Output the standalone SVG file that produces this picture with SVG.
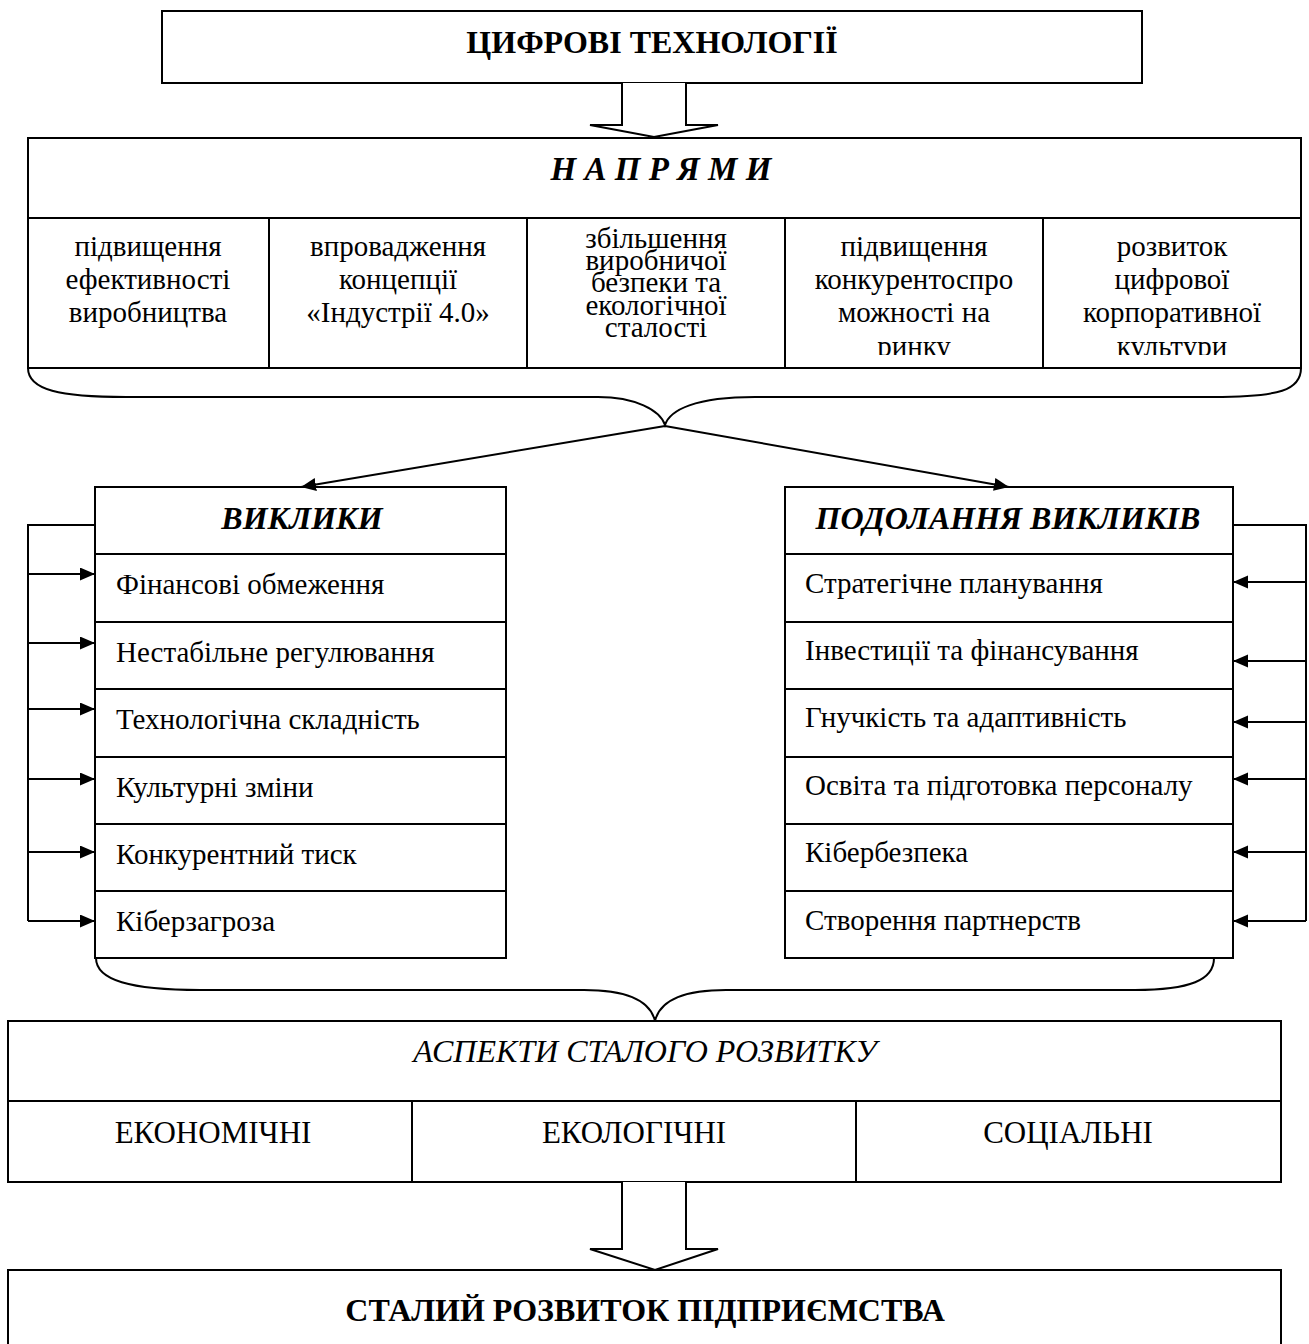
<svg xmlns="http://www.w3.org/2000/svg" width="1309" height="1344" viewBox="0 0 1309 1344">
<style>
.box{fill:#fff;stroke:#000;stroke-width:2}
.ln{fill:none;stroke:#000;stroke-width:2}
.t{font-family:"Liberation Serif","Times New Roman",serif;font-size:29px;fill:#000}
.c{text-anchor:middle}
.b{font-weight:bold;font-size:32px}
.i{font-style:italic}
.h{font-size:32px}
.k{font-size:31px}
</style>
<defs>
<marker id="ah" markerUnits="userSpaceOnUse" markerWidth="16" markerHeight="14" refX="15" refY="6.5" orient="auto">
<path d="M0,0 L15,6.5 L0,13 z" fill="#000"/>
</marker>
<clipPath id="cellclip"><rect x="28" y="218" width="1273" height="137"/></clipPath>
</defs>

<g id="node-tech">
<rect class="box" x="162" y="11" width="980" height="72"/>
<text class="t c b" x="652" y="53">ЦИФРОВІ ТЕХНОЛОГІЇ</text>
</g>

<g id="node-napryamy">
<rect class="box" x="28" y="138" width="1273" height="230"/>
<line class="ln" x1="28" y1="218" x2="1301" y2="218"/>
<line class="ln" x1="269" y1="218" x2="269" y2="368"/>
<line class="ln" x1="527" y1="218" x2="527" y2="368"/>
<line class="ln" x1="785" y1="218" x2="785" y2="368"/>
<line class="ln" x1="1043" y1="218" x2="1043" y2="368"/>
<text class="t c b i" x="661" y="180" style="font-size:33px">Н А П Р Я М И</text>
<g clip-path="url(#cellclip)">
<text class="t c" x="148" y="256">підвищення</text>
<text class="t c" x="148" y="289">ефективності</text>
<text class="t c" x="148" y="322">виробництва</text>
<text class="t c" x="398" y="256">впровадження</text>
<text class="t c" x="398" y="289">концепції</text>
<text class="t c" x="398" y="322">«Індустрії 4.0»</text>
<text class="t c" x="656" y="248">збільшення</text>
<text class="t c" x="656" y="270">виробничої</text>
<text class="t c" x="656" y="292">безпеки та</text>
<text class="t c" x="656" y="315">екологічної</text>
<text class="t c" x="656" y="337">сталості</text>
<text class="t c" x="914" y="256">підвищення</text>
<text class="t c" x="914" y="289">конкурентоспро</text>
<text class="t c" x="914" y="322">можності на</text>
<text class="t c" x="914" y="356">ринку</text>
<text class="t c" x="1172" y="256">розвиток</text>
<text class="t c" x="1172" y="289">цифрової</text>
<text class="t c" x="1172" y="322">корпоративної</text>
<text class="t c" x="1172" y="356">культури</text>
</g>
</g>

<g id="node-vyklyky">
<rect class="box" x="95" y="487" width="411" height="471"/>
<line class="ln" x1="95" y1="554" x2="506" y2="554"/>
<line class="ln" x1="95" y1="622" x2="506" y2="622"/>
<line class="ln" x1="95" y1="689" x2="506" y2="689"/>
<line class="ln" x1="95" y1="757" x2="506" y2="757"/>
<line class="ln" x1="95" y1="824" x2="506" y2="824"/>
<line class="ln" x1="95" y1="891" x2="506" y2="891"/>
<text class="t c b i" x="302" y="529">ВИКЛИКИ</text>
<text class="t" x="116" y="594">Фінансові обмеження</text>
<text class="t" x="116" y="662">Нестабільне регулювання</text>
<text class="t" x="116" y="729">Технологічна складність</text>
<text class="t" x="116" y="797">Культурні зміни</text>
<text class="t" x="116" y="864">Конкурентний тиск</text>
<text class="t" x="116" y="931">Кіберзагроза</text>
</g>

<g id="node-podolannya">
<rect class="box" x="785" y="487" width="448" height="471"/>
<line class="ln" x1="785" y1="554" x2="1233" y2="554"/>
<line class="ln" x1="785" y1="622" x2="1233" y2="622"/>
<line class="ln" x1="785" y1="689" x2="1233" y2="689"/>
<line class="ln" x1="785" y1="757" x2="1233" y2="757"/>
<line class="ln" x1="785" y1="824" x2="1233" y2="824"/>
<line class="ln" x1="785" y1="891" x2="1233" y2="891"/>
<text class="t c b i" x="1008" y="529">ПОДОЛАННЯ ВИКЛИКІВ</text>
<text class="t" x="805" y="593">Стратегічне планування</text>
<text class="t" x="805" y="660">Інвестиції та фінансування</text>
<text class="t" x="805" y="727">Гнучкість та адаптивність</text>
<text class="t" x="805" y="795">Освіта та підготовка персоналу</text>
<text class="t" x="805" y="862">Кібербезпека</text>
<text class="t" x="805" y="930">Створення партнерств</text>
</g>

<g id="node-aspekty">
<rect class="box" x="8" y="1021" width="1273" height="161"/>
<line class="ln" x1="8" y1="1101" x2="1281" y2="1101"/>
<line class="ln" x1="412" y1="1101" x2="412" y2="1182"/>
<line class="ln" x1="856" y1="1101" x2="856" y2="1182"/>
<text class="t c i h" x="645" y="1062">АСПЕКТИ СТАЛОГО РОЗВИТКУ</text>
<text class="t c k" x="213" y="1143">ЕКОНОМІЧНІ</text>
<text class="t c k" x="634" y="1143">ЕКОЛОГІЧНІ</text>
<text class="t c k" x="1068" y="1143">СОЦІАЛЬНІ</text>
</g>

<g id="node-stalyi">
<rect class="box" x="8" y="1270" width="1273" height="100"/>
<text class="t c b" x="645" y="1321">СТАЛИЙ РОЗВИТОК ПІДПРИЄМСТВА</text>
</g>

<g id="connectors">
<path class="box" d="M622,83 L622,125 L590,125 L654,137 L718,125 L686,125 L686,83"/>
<path class="ln" d="M28,368 C28,390 60,397 126,397 L598,397 C635,397 660,410 665,425 C670,410 695,397 755,397 L1213,397 C1280,397 1301,390 1301,368"/>
<line class="ln" x1="665" y1="426" x2="301" y2="487" marker-end="url(#ah)"/>
<line class="ln" x1="665" y1="426" x2="1009" y2="487" marker-end="url(#ah)"/>
<path class="ln" d="M95,525 H28 V921"/>
<line class="ln" x1="28" y1="574" x2="95" y2="574" marker-end="url(#ah)"/>
<line class="ln" x1="28" y1="643" x2="95" y2="643" marker-end="url(#ah)"/>
<line class="ln" x1="28" y1="709" x2="95" y2="709" marker-end="url(#ah)"/>
<line class="ln" x1="28" y1="779" x2="95" y2="779" marker-end="url(#ah)"/>
<line class="ln" x1="28" y1="852" x2="95" y2="852" marker-end="url(#ah)"/>
<line class="ln" x1="28" y1="921" x2="95" y2="921" marker-end="url(#ah)"/>
<path class="ln" d="M1233,525 H1306 V921"/>
<line class="ln" x1="1306" y1="582" x2="1233" y2="582" marker-end="url(#ah)"/>
<line class="ln" x1="1306" y1="661" x2="1233" y2="661" marker-end="url(#ah)"/>
<line class="ln" x1="1306" y1="722" x2="1233" y2="722" marker-end="url(#ah)"/>
<line class="ln" x1="1306" y1="779" x2="1233" y2="779" marker-end="url(#ah)"/>
<line class="ln" x1="1306" y1="852" x2="1233" y2="852" marker-end="url(#ah)"/>
<line class="ln" x1="1306" y1="921" x2="1233" y2="921" marker-end="url(#ah)"/>
<path class="ln" d="M96,958 C96,980 130,990 200,990 L584,990 C625,990 650,1000 655,1021 C660,1000 685,990 726,990 L1135,990 C1190,990 1214,980 1214,958"/>
<path class="box" d="M622,1182 L622,1249 L590,1249 L655,1270 L718,1249 L686,1249 L686,1182"/>
</g>
</svg>
